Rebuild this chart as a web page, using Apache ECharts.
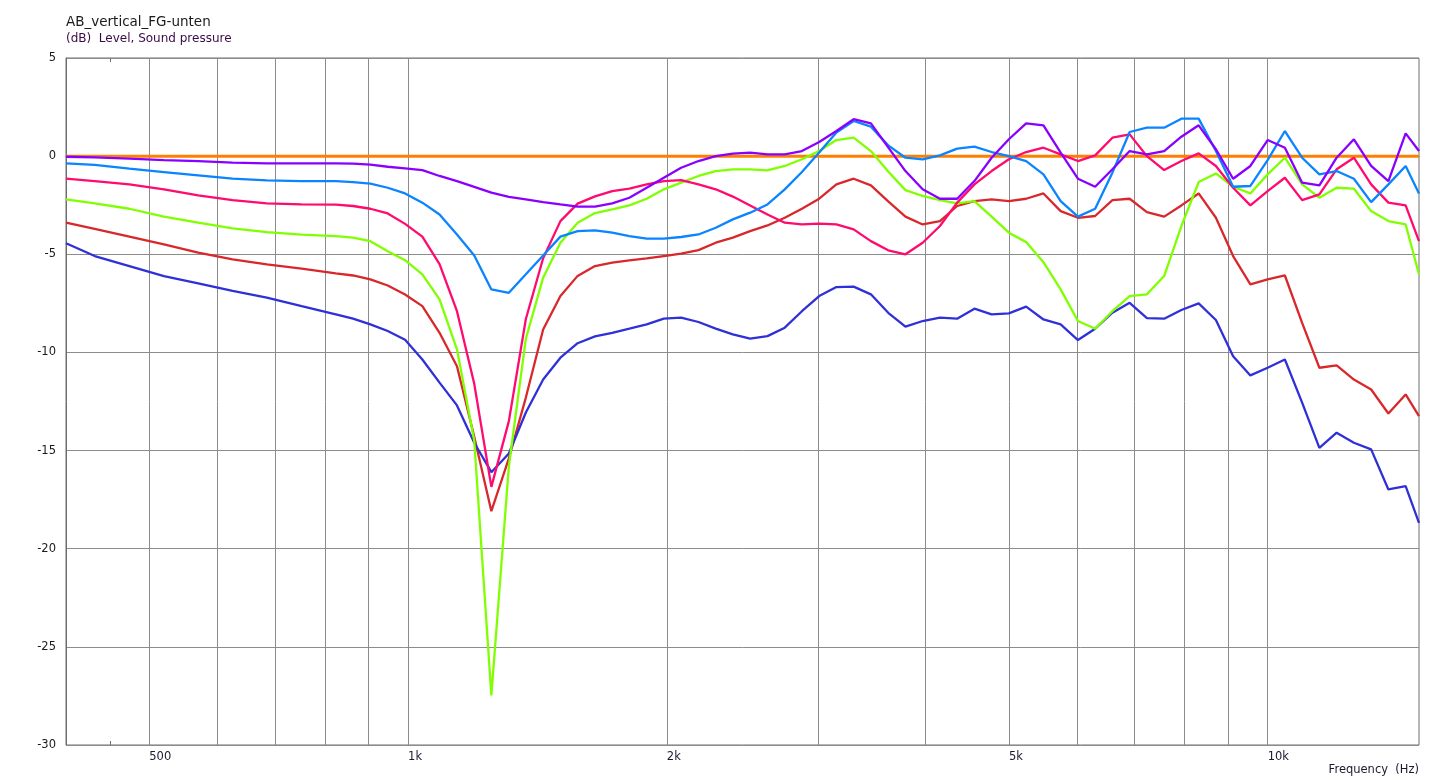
<!DOCTYPE html>
<html><head><meta charset="utf-8">
<script src="https://cdn.jsdelivr.net/npm/echarts@6/dist/echarts.min.js"></script>
<style>html,body{margin:0;padding:0;background:#fff}#c{width:1443px;height:782px}</style>
</head><body><div id="c"></div>
<script>
// Frequencies (Hz)
const freqs = [400, 432, 474, 520, 570, 625, 685, 752, 824, 863, 904, 947, 992,
  1039, 1088, 1140, 1194, 1250, 1310, 1371, 1436, 1504, 1575, 1650, 1728, 1809, 1895, 1984,
  2078, 2177, 2280, 2387, 2500, 2619, 2743, 2872, 3008, 3150, 3299, 3455, 3619, 3790, 3969,
  4157, 4353, 4559, 4774, 5000, 5237, 5485, 5744, 6016, 6300, 6598, 6910, 7237, 7579, 7937,
  8313, 8706, 9117, 9548, 10000, 10473, 10968, 11487, 12030, 12599, 13195, 13819, 14473, 15000];

// Level (dB) per curve
const purpleDb = [-0.03, -0.06, -0.13, -0.2, -0.25, -0.33, -0.37, -0.37, -0.37, -0.38, -0.43, -0.54, -0.62,
  -0.71, -1.01, -1.27, -1.57, -1.86, -2.08, -2.2, -2.34, -2.46, -2.57, -2.57, -2.41, -2.12, -1.61, -1.1,
  -0.59, -0.25, 0.0, 0.13, 0.18, 0.09, 0.09, 0.26, 0.72, 1.28, 1.88, 1.67, 0.45, -0.76, -1.69,
  -2.17, -2.17, -1.27, -0.08, 0.86, 1.67, 1.57, 0.18, -1.15, -1.56, -0.67, 0.26, 0.09, 0.26, 0.99,
  1.57, 0.35, -1.15, -0.5, 0.82, 0.43, -1.35, -1.49, -0.08, 0.86, -0.5, -1.27, 1.16, 0.26];
const blueDb = [-0.37, -0.45, -0.64, -0.81, -0.98, -1.15, -1.23, -1.27, -1.27, -1.32, -1.4, -1.61, -1.9,
  -2.37, -2.97, -3.99, -5.06, -6.79, -6.96, -6.02, -5.06, -4.1, -3.82, -3.78, -3.9, -4.07, -4.2, -4.2,
  -4.12, -3.99, -3.65, -3.22, -2.88, -2.46, -1.69, -0.81, 0.18, 1.2, 1.79, 1.5, 0.55, -0.08, -0.16,
  0.04, 0.38, 0.48, 0.21, 0.0, -0.25, -0.93, -2.29, -3.08, -2.68, -0.84, 1.23, 1.45, 1.45, 1.91,
  1.91, 0.26, -1.56, -1.52, -0.2, 1.28, -0.08, -0.93, -0.76, -1.15, -2.34, -1.44, -0.5, -1.9];
const pinkDb = [-1.15, -1.27, -1.44, -1.69, -2.0, -2.24, -2.41, -2.46, -2.47, -2.54, -2.68, -2.92, -3.45,
  -4.1, -5.5, -7.9, -11.6, -16.85, -13.5, -8.3, -5.2, -3.31, -2.42, -2.05, -1.78, -1.66, -1.44, -1.27,
  -1.22, -1.44, -1.69, -2.06, -2.51, -2.97, -3.39, -3.48, -3.44, -3.48, -3.73, -4.33, -4.8, -5.0, -4.41,
  -3.56, -2.37, -1.44, -0.76, -0.16, 0.21, 0.43, 0.09, -0.25, 0.04, 0.94, 1.11, 0.0, -0.71, -0.25,
  0.14, -0.5, -1.61, -2.51, -1.78, -1.1, -2.24, -1.95, -0.67, -0.08, -1.44, -2.37, -2.51, -4.33];
const greenDb = [-2.2, -2.41, -2.68, -3.08, -3.39, -3.68, -3.87, -4.0, -4.07, -4.15, -4.33, -4.84, -5.3,
  -6.02, -7.3, -9.84, -14.5, -27.48, -15.8, -9.3, -6.19, -4.41, -3.39, -2.9, -2.71, -2.51, -2.17, -1.69,
  -1.35, -1.01, -0.76, -0.67, -0.67, -0.72, -0.5, -0.16, 0.26, 0.82, 0.94, 0.26, -0.78, -1.73, -2.03,
  -2.24, -2.41, -2.29, -3.08, -3.9, -4.38, -5.4, -6.79, -8.4, -8.79, -7.9, -7.13, -7.04, -6.11, -3.56,
  -1.32, -0.88, -1.56, -1.9, -0.93, -0.08, -1.44, -2.12, -1.61, -1.66, -2.8, -3.31, -3.48, -6.02];
const redDb = [-3.39, -3.7, -4.1, -4.5, -4.92, -5.26, -5.51, -5.73, -5.97, -6.08, -6.28, -6.59, -7.05,
  -7.64, -9.0, -10.7, -14.3, -18.09, -15.4, -12.3, -8.83, -7.13, -6.1, -5.6, -5.43, -5.31, -5.21, -5.09,
  -4.97, -4.79, -4.41, -4.15, -3.82, -3.53, -3.14, -2.68, -2.17, -1.44, -1.15, -1.49, -2.3, -3.08, -3.48,
  -3.31, -2.54, -2.29, -2.2, -2.29, -2.17, -1.9, -2.8, -3.14, -3.05, -2.24, -2.17, -2.85, -3.08, -2.51,
  -1.9, -3.14, -5.09, -6.53, -6.28, -6.08, -8.49, -10.78, -10.66, -11.38, -11.89, -13.11, -12.14, -13.25];
const darkBlueDb = [-4.44, -5.09, -5.6, -6.11, -6.48, -6.87, -7.21, -7.64, -8.06, -8.28, -8.57, -8.91, -9.35,
  -10.36, -11.54, -12.7, -14.6, -16.1, -15.15, -13.06, -11.38, -10.27, -9.53, -9.18, -9.0, -8.79, -8.57, -8.28,
  -8.23, -8.45, -8.79, -9.08, -9.3, -9.17, -8.74, -7.9, -7.13, -6.67, -6.65, -7.04, -7.98, -8.69, -8.4,
  -8.23, -8.28, -7.77, -8.06, -8.01, -7.67, -8.32, -8.57, -9.37, -8.79, -7.98, -7.47, -8.25, -8.28, -7.84,
  -7.5, -8.35, -10.19, -11.17, -10.78, -10.36, -12.56, -14.86, -14.09, -14.6, -14.94, -16.98, -16.81, -18.68];
const referenceFreqs = [400, 15000];
const referenceDb = [0, 0];

// Axis values
const xMinHz = 400, xMaxHz = 15000;
const gridFreqs = [500, 600, 700, 800, 900, 1000, 2000, 3000, 4000, 5000, 6000, 7000, 8000, 9000, 10000];
const labelFreqs = [500, 1000, 2000, 5000, 10000];
const minorTickFreqs = [450];
const yMin = -30, yMax = 5, yStep = 5;

const FONT = 'DejaVu Sans';
const lg = Math.log10;
const toPairs = (fs, vs) => fs.map((f, i) => [lg(f), vs[i]]);

const curves = [
  { name: 'ref', f: referenceFreqs, v: referenceDb, color: '#ff8000', w: 3 },
  { name: 'red', f: freqs, v: redDb, color: '#d8282c', w: 2.3 },
  { name: 'darkblue', f: freqs, v: darkBlueDb, color: '#3030d8', w: 2.3 },
  { name: 'green', f: freqs, v: greenDb, color: '#80ff00', w: 2.3 },
  { name: 'pink', f: freqs, v: pinkDb, color: '#ff0a6e', w: 2.3 },
  { name: 'blue', f: freqs, v: blueDb, color: '#0a84ff', w: 2.3 },
  { name: 'purple', f: freqs, v: purpleDb, color: '#8a00ff', w: 2.3 }
];

const chart = echarts.init(document.getElementById('c'));
const tickAxisBase = {
  type: 'value', min: lg(xMinHz), max: lg(xMaxHz),
  axisLine: { show: false }, axisLabel: { show: false }, splitLine: { show: false },
  axisTick: { show: true, inside: true, length: 4, customValues: minorTickFreqs.map(lg),
    lineStyle: { color: '#6e6e6e', width: 1 } }
};
chart.setOption({
  animation: false,
  backgroundColor: '#ffffff',
  title: [
    { text: 'AB_vertical_FG-unten', left: 66, top: 15, padding: 0,
      textStyle: { fontFamily: FONT, fontSize: 13.5, fontWeight: 'normal', color: '#1a1a1a' } },
    { text: '(dB)  Level, Sound pressure', left: 66, top: 33, padding: 0,
      textStyle: { fontFamily: FONT, fontSize: 12, fontWeight: 'normal', color: '#3a0a48' } },
    { text: 'Frequency  (Hz)', right: 24, top: 764, padding: 0,
      textStyle: { fontFamily: FONT, fontSize: 11.5, fontWeight: 'normal', color: '#1a1a2e' } }
  ],
  grid: { left: 66, right: 24, top: 58, bottom: 37, show: true, borderColor: '#6e6e6e', borderWidth: 1,
    backgroundColor: 'transparent' },
  xAxis: [
    {
      type: 'value', min: lg(xMinHz), max: lg(xMaxHz), position: 'bottom',
      axisLine: { show: true, lineStyle: { color: '#6e6e6e', width: 1 } },
      axisTick: { show: false, customValues: gridFreqs.map(lg) },
      splitLine: { show: true, lineStyle: { color: '#8c8c8c', width: 1 } },
      axisLabel: {
        customValues: labelFreqs.map(lg), align: 'left', margin: 6,
        fontFamily: FONT, fontSize: 11.5, color: '#1a1a2e',
        formatter: v => { const f = Math.round(Math.pow(10, v)); return f >= 1000 ? (f / 1000) + 'k' : String(f); }
      }
    },
    Object.assign({ position: 'top' }, tickAxisBase),
    Object.assign({ position: 'bottom' }, tickAxisBase)
  ],
  yAxis: {
    type: 'value', min: yMin, max: yMax, interval: yStep,
    axisLine: { show: true, lineStyle: { color: '#6e6e6e', width: 1 } },
    axisTick: { show: false },
    splitLine: { show: true, lineStyle: { color: '#8c8c8c', width: 1 } },
    axisLabel: { margin: 10, fontFamily: FONT, fontSize: 11.5, color: '#1a1a1a' }
  },
  series: curves.map(c => ({
    type: 'line', name: c.name, xAxisIndex: 0, data: toPairs(c.f, c.v),
    showSymbol: false, symbol: 'none', smooth: false, clip: true,
    lineStyle: { color: c.color, width: c.w }, itemStyle: { color: c.color },
    emphasis: { disabled: true }
  }))
});
</script>
</body></html>
